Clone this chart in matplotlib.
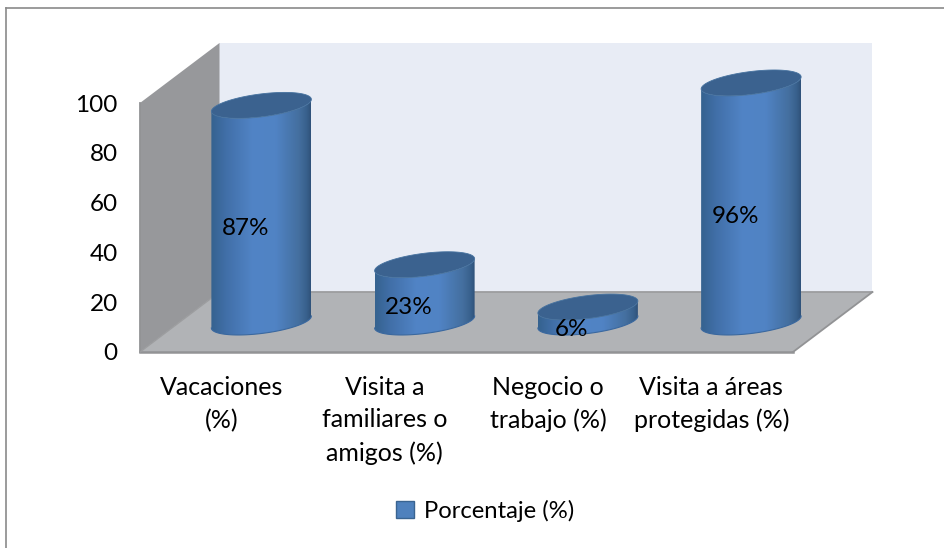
import numpy as np
import matplotlib
matplotlib.use("Agg")
import matplotlib.pyplot as plt
from matplotlib.patches import Polygon, Patch
from matplotlib.lines import Line2D
from matplotlib.colors import LinearSegmentedColormap

categories = ["Vacaciones\n(%)", "Visita a\nfamiliares o\namigos (%)", "Negocio o\ntrabajo (%)", "Visita a áreas\nprotegidas (%)"]
values = [87, 23, 6, 96]
value_labels = ["87%", "23%", "6%", "96%"]
yticks = [0, 20, 40, 60, 80, 100]
series_name = "Porcentaje (%)"

plt.rcParams["font.family"] = ["Lato", "DejaVu Sans"]
W, H = 945, 548
FS = 17.5
FS_TEXT = 18
FS_LEGEND = 17.2
fig = plt.figure(figsize=(W / 100, H / 100), dpi=100, facecolor="white")
ax = fig.add_axes([140 / W, (H - 352) / H, 653 / W, 249 / H])
ax.patch.set_alpha(0)
XPX, YPX = 653 / 4, 249 / 100
DX, DY = 79.5 / XPX, 60 / YPX  # full depth of the box in data units

# chart frame: only the left and top edges are visible in the reference
for xs, ys in [((6, 6), (548, 8)), ((6, 945), (8, 8))]:
    fig.add_artist(Line2D([x / W for x in xs], [1 - y / H for y in ys], transform=fig.transFigure,
                          color="#8a8a8a", lw=1.2))

def P(x, y, d=0.0):
    return (x + d * DX, y + d * DY)

x0, x1 = -0.5, 3.5
# walls and floor
ax.add_patch(Polygon([P(x0, 0, 1), P(x1, 0, 1), P(x1, 100, 1), P(x0, 100, 1)], fc="#e8ecf5", ec="none", zorder=1, clip_on=False))
ax.add_patch(Polygon([P(x0, 0), P(x0, 100), P(x0, 100, 1), P(x0, 0, 1)], fc="#97989b", ec="none", zorder=1, clip_on=False))
ax.add_patch(Polygon([P(x0, 0), P(x1, 0), P(x1, 0, 1), P(x0, 0, 1)], fc="#b1b3b6", ec="none", zorder=1, clip_on=False))
edge = "#929395"
ax.plot(*zip(P(x0, 0), P(x1, 0)), color=edge, lw=1.8, zorder=2, clip_on=False)
ax.plot(*zip(P(x0, 0, 1), P(x1, 0, 1)), color="#9c9d9f", lw=1.3, zorder=2, clip_on=False)
ax.plot(*zip(P(x1, 0), P(x1, 0, 1)), color=edge, lw=1.3, zorder=2, clip_on=False)
ax.plot(*zip(P(x0, 0), P(x0, 100)), color=edge, lw=1.3, zorder=2, clip_on=False)
ax.plot(*zip(P(x0, 0), P(x0, 0, 1)), color="#9c9d9f", lw=1, zorder=2, clip_on=False)

# cylinders
body_cmap = LinearSegmentedColormap.from_list("cyl", [
    (0.00, "#35628f"), (0.15, "#416fa8"), (0.42, "#5184c6"), (0.65, "#5083c4"),
    (0.88, "#446f9f"), (0.96, "#38608c"), (1.00, "#30527a")])
ramp = np.linspace(0, 1, 256).reshape(1, -1)
HALF = 50 / XPX
TILT = 6 / YPX
MINOR = 11.5 / YPX

def ellipse(cx, cy, t):
    return np.column_stack([cx + HALF * np.cos(t), cy + TILT * np.cos(t) + MINOR * np.sin(t)])

for i, v in enumerate(values):
    cx, cy0 = P(i, 0, 0.5)
    cy1 = cy0 + v
    low = ellipse(cx, cy0, np.linspace(np.pi, 2 * np.pi, 60))
    upper = ellipse(cx, cy1, np.linspace(2 * np.pi, np.pi, 60))
    outline = np.vstack([low, upper])
    clip = Polygon(outline, transform=ax.transData, fc="none", ec="none", clip_on=False)
    ax.add_patch(clip)
    im = ax.imshow(ramp, extent=(cx - HALF, cx + HALF, cy0 - 10, cy1 + 10), cmap=body_cmap,
                   aspect="auto", interpolation="bilinear", zorder=3, origin="lower")
    im.set_clip_box(fig.bbox)
    im.set_clip_path(clip)
    ax.plot(low[:, 0], low[:, 1], color="#3a689f", lw=0.8, zorder=3.5, clip_on=False)
    top = ellipse(cx, cy1, np.linspace(0, 2 * np.pi, 120))
    ax.add_patch(Polygon(top, fc="#3b628f", ec="#46729f", lw=0.6, zorder=4, clip_on=False))
    ax.annotate(value_labels[i], (cx, cy0 + v / 2), xytext=(-16 * 0.72, -14.5 * 0.72), textcoords="offset points",
                ha="center", va="center", fontsize=FS, color="black", zorder=6, annotation_clip=False)

ax.set_xlim(x0, x1)
ax.set_ylim(0, 100)
for s in ax.spines.values():
    s.set_visible(False)
ax.set_xticks(range(len(categories)), categories)
ax.set_yticks(yticks)
ax.tick_params(axis="both", length=0, colors="black")
ax.tick_params(axis="x", pad=17, labelsize=FS_TEXT)
ax.tick_params(axis="y", pad=16, labelsize=FS)
for t in ax.get_xticklabels():
    t.set_linespacing(1.52)

ax.legend(handles=[Patch(fc="#4f81bd", ec="#3a6491", label=series_name)], loc="center",
          bbox_to_anchor=(485 / W, (H - 511) / H), bbox_transform=fig.transFigure, frameon=False,
          fontsize=FS_LEGEND, handlelength=0.75, handleheight=0.75, handletextpad=0.4)

fig.savefig("out.png", dpi=100, facecolor="white")
